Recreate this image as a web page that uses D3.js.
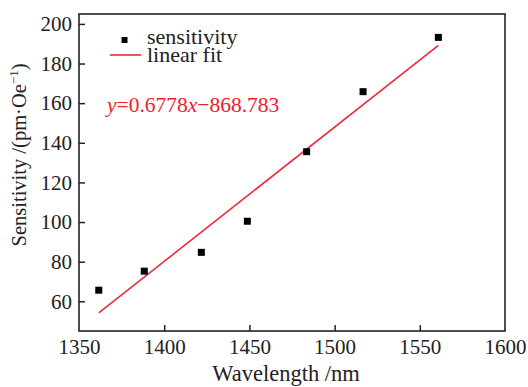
<!DOCTYPE html>
<meta charset="utf-8">
<script src="https://d3js.org/d3.v7.min.js"></script>
<style>
  body { margin: 0; background: #fff; }
  text { font-family: "Liberation Serif", serif; fill: #222; }
</style>
<body></body>
<script>
  // measured points
  let wavelength = [1361.6, 1388.3, 1421.8, 1448.8, 1483.6, 1516.7, 1560.9];
  let sensitivity = [65.6, 75.2, 84.7, 100.4, 135.5, 165.8, 193.2];
  let xTicks = [1350, 1400, 1450, 1500, 1550, 1600];
  let yTicks = [60, 80, 100, 120, 140, 160, 180, 200];
  let slope = 0.6778, intercept = -868.783;

  let margin = { top: 14, right: 23, bottom: 56, left: 79 };
  let width = 528 - margin.left - margin.right,
    height = 387 - margin.top - margin.bottom;

  let svg = d3.select("body").append("svg")
    .attr("width", 528).attr("height", 387)
    .append("g")
    .attr("transform", `translate(${margin.left},${margin.top})`);

  let x = d3.scaleLinear().domain([1350, 1600]).range([0, width]);
  let y = d3.scaleLinear().domain([45, 205]).range([height, 0]);

  let xAxis = svg.append("g")
    .attr("transform", `translate(0,${height})`)
    .call(d3.axisBottom(x).tickValues(xTicks).tickSize(-6).tickPadding(8).tickFormat(d3.format("d")));
  let yAxis = svg.append("g")
    .call(d3.axisLeft(y).tickValues(yTicks).tickSize(-6).tickPadding(7).tickFormat(d3.format("d")));

  [xAxis, yAxis].forEach(a => {
    a.select(".domain").remove();
    a.selectAll("line").attr("stroke", "#222").attr("stroke-width", 1.5);
    a.selectAll("text").style("font-family", "Liberation Serif, serif").attr("font-size", 21).attr("fill", "#222");
  });
  // hide edge ticks on x
  xAxis.selectAll(".tick").filter(d => d === 1350 || d === 1600).select("line").remove();

  svg.append("rect")
    .attr("width", width).attr("height", height)
    .attr("fill", "none").attr("stroke", "#222").attr("stroke-width", 1.6);

  // fit line
  let xs = [d3.min(wavelength), d3.max(wavelength)];
  svg.append("line")
    .attr("x1", x(xs[0])).attr("y1", y(slope * xs[0] + intercept))
    .attr("x2", x(xs[1])).attr("y2", y(slope * xs[1] + intercept))
    .attr("stroke", "#ee2a3c").attr("stroke-width", 1.6);

  let s = 7;
  svg.selectAll(".pt").data(wavelength).enter().append("rect")
    .attr("class", "pt")
    .attr("x", (d, i) => x(d) - s / 2)
    .attr("y", (d, i) => y(sensitivity[i]) - s / 2)
    .attr("width", s).attr("height", s)
    .attr("fill", "#000");

  // legend
  svg.append("rect").attr("x", 42.5).attr("y", 23).attr("width", 6).attr("height", 6).attr("fill", "#000");
  svg.append("text").attr("x", 68).attr("y", 30).attr("font-size", 22).text("sensitivity");
  svg.append("line").attr("x1", 31).attr("x2", 62).attr("y1", 41).attr("y2", 41)
    .attr("stroke", "#ee2a3c").attr("stroke-width", 1.6);
  svg.append("text").attr("x", 68).attr("y", 47.5).attr("font-size", 22).text("linear fit");

  let eq = svg.append("text").attr("x", 28).attr("y", 98).attr("font-size", 21.5).style("fill", "#f0202a");
  eq.append("tspan").attr("font-style", "italic").text("y");
  eq.append("tspan").text("=0.6778");
  eq.append("tspan").attr("font-style", "italic").text("x");
  eq.append("tspan").text("\u2212868.783");

  // axis titles
  svg.append("text")
    .attr("x", width / 2 - 6).attr("y", height + 50)
    .attr("text-anchor", "middle").attr("font-size", 22.5)
    .text("Wavelength /nm");

  let yl = svg.append("text")
    .attr("transform", `translate(-53,${155 - margin.top}) rotate(-90)`)
    .attr("text-anchor", "middle").attr("font-size", 20.5);
  yl.append("tspan").text("Sensitivity /(pm\u00b7Oe");
  yl.append("tspan").attr("font-size", 13).attr("dy", -8).text("\u22121");
  yl.append("tspan").attr("dy", 8).text(")");
</script>
